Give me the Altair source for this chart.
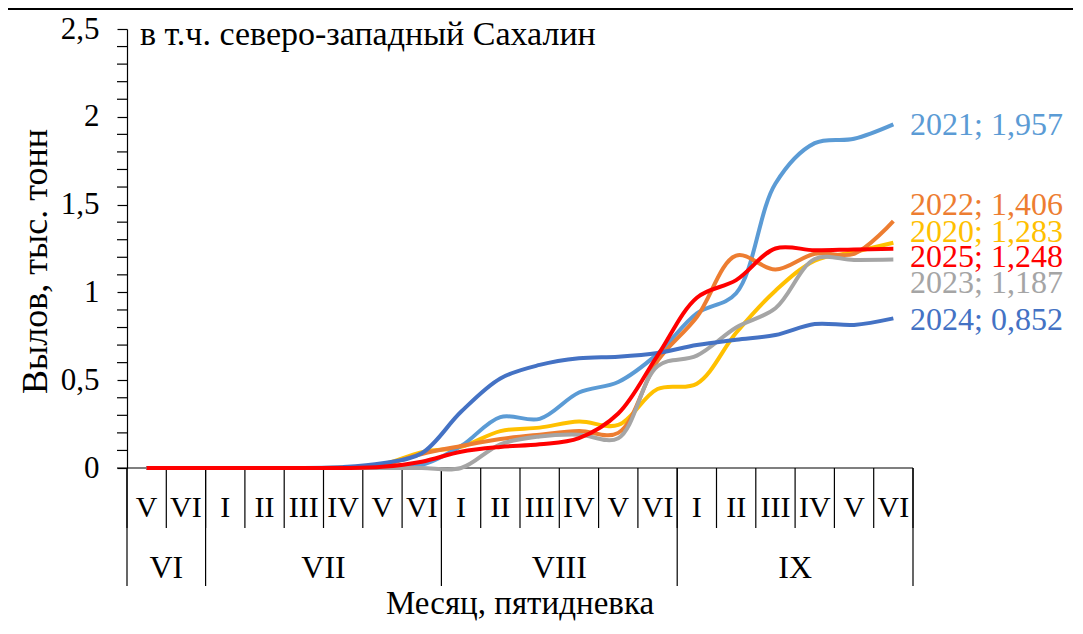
import altair as alt
import pandas as pd

# ---------------- data ----------------
pentads = ["V", "VI",
           "I", "II", "III", "IV", "V", "VI",
           "I", "II", "III", "IV", "V", "VI",
           "I", "II", "III", "IV", "V", "VI"]
months = ["VI", "VII", "VIII", "IX"]
month_first = [0, 2, 8, 14]
month_count = [2, 6, 6, 6]

years = ["2020", "2021", "2022", "2023", "2024", "2025"]
v2020 = [0, 0, 0, 0, 0, 0.002, 0.02, 0.09, 0.12, 0.21, 0.23, 0.265, 0.245, 0.45, 0.48, 0.77, 1.01, 1.18, 1.23, 1.283]
v2021 = [0, 0, 0, 0, 0, 0.003, 0.01, 0.018, 0.125, 0.29, 0.28, 0.43, 0.49, 0.65, 0.88, 0.995, 1.62, 1.85, 1.875, 1.957]
v2022 = [0, 0, 0, 0, 0, 0.003, 0.017, 0.08, 0.125, 0.165, 0.19, 0.21, 0.20, 0.61, 0.86, 1.21, 1.13, 1.22, 1.22, 1.406]
v2023 = [0, 0, 0, 0, 0, 0, 0, 0, 0, 0.135, 0.18, 0.19, 0.17, 0.58, 0.64, 0.80, 0.91, 1.19, 1.185, 1.187]
v2024 = [0, 0, 0, 0, 0, 0.005, 0.027, 0.084, 0.32, 0.51, 0.587, 0.625, 0.634, 0.655, 0.70, 0.73, 0.757, 0.82, 0.815, 0.852]
v2025 = [0, 0, 0, 0, 0, 0, 0.007, 0.036, 0.093, 0.12, 0.135, 0.17, 0.31, 0.64, 0.97, 1.07, 1.25, 1.24, 1.245, 1.248]
series = [v2020, v2021, v2022, v2023, v2024, v2025]
final_values = [1.283, 1.957, 1.406, 1.187, 0.852, 1.248]
label_y = [1.346, 1.953, 1.498, 1.054, 0.843, 1.203]
colors = ["#FFC000", "#5B9BD5", "#ED7D31", "#A5A5A5", "#4472C4", "#FF0000"]

y_major = [0, 0.5, 1, 1.5, 2, 2.5]
y_minor = [round(i * 0.1, 1) for i in range(26) if i % 5 != 0]

title_text = "в т.ч. северо-западный Сахалин"
y_title = "Вылов, тыс. тонн"
x_title = "Месяц, пятидневка"

FONT = "Liberation Serif"
W, H = 786, 439

# ---------------- tables ----------------
lines_df = pd.DataFrame([
    {"year": y, "idx": i, "value": v}
    for y, vals in zip(years, series) for i, v in enumerate(vals)
])
labels_df = pd.DataFrame({
    "year": years,
    "ly": label_y,
    "text": [f"{y}; {v:.3f}".replace(".", ",") for y, v in zip(years, final_values)],
})
pentad_df = pd.DataFrame({"idx": list(range(len(pentads))), "lab": pentads})
bounds_df = pd.DataFrame({"b": [i - 0.5 for i in range(len(pentads) + 1)]})
month_df = pd.DataFrame({
    "lab": months,
    "c": [f + (n - 1) / 2 for f, n in zip(month_first, month_count)],
})
month_bounds_df = pd.DataFrame({"b": [f - 0.5 for f in month_first] + [len(pentads) - 0.5]})
minor_df = pd.DataFrame({"t": y_minor})
one = pd.DataFrame({"a": [0]})

xscale = alt.Scale(domain=[-0.5, len(pentads) - 0.5], nice=False, zero=False)
yscale = alt.Scale(domain=[0, 2.5], nice=False)
yaxis = alt.Axis(
    values=y_major, labelExpr="replace(toString(datum.value), '.', ',')",
    title=y_title, titleFont=FONT, titleFontSize=36, titleFontWeight="normal",
    titleColor="black", titleAngle=-90, titleX=-92, titleY=232,
    titleAlign="center", titleBaseline="middle",
    labelFont=FONT, labelFontSize=31, labelColor="black", labelPadding=18,
    tickColor="black", tickSize=10, tickWidth=1.2,
    domainColor="black", domainWidth=1.2, grid=False,
)
color = alt.Color("year:N", scale=alt.Scale(domain=years, range=colors), legend=None)

lines = alt.Chart(lines_df).mark_line(strokeWidth=4, interpolate="catmull-rom").encode(
    x=alt.X("idx:Q", scale=xscale, axis=None),
    y=alt.Y("value:Q", scale=yscale, axis=yaxis),
    color=color,
)

end_labels = alt.Chart(labels_df).mark_text(
    align="left", baseline="middle", font=FONT, fontSize=32
).encode(
    x=alt.value(783),
    y=alt.Y("ly:Q", scale=yscale, axis=yaxis),
    text="text:N",
    color=color,
)

minor_ticks = alt.Chart(minor_df).mark_rule(color="black", strokeWidth=1.2).encode(
    x=alt.value(-10), x2=alt.value(0),
    y=alt.Y("t:Q", scale=yscale, axis=yaxis),
)

x_line = alt.Chart(one).mark_rule(color="black", strokeWidth=1.2).encode(
    x=alt.value(-10), x2=alt.value(W), y=alt.value(H)
)

pentad_bounds = alt.Chart(bounds_df).mark_rule(color="black", strokeWidth=1.2).encode(
    x=alt.X("b:Q", scale=xscale, axis=None), y=alt.value(H), y2=alt.value(H + 60)
)
month_bounds = alt.Chart(month_bounds_df).mark_rule(color="black", strokeWidth=1.2).encode(
    x=alt.X("b:Q", scale=xscale, axis=None), y=alt.value(H), y2=alt.value(H + 118)
)
pentad_labels = alt.Chart(pentad_df).mark_text(
    font=FONT, fontSize=30, color="black", baseline="middle"
).encode(x=alt.X("idx:Q", scale=xscale, axis=None), y=alt.value(H + 40), text="lab:N")
month_labels = alt.Chart(month_df).mark_text(
    font=FONT, fontSize=32, color="black", baseline="middle"
).encode(x=alt.X("c:Q", scale=xscale, axis=None), y=alt.value(H + 100), text="lab:N")

x_title_mark = alt.Chart(one).mark_text(
    font=FONT, fontSize=33, color="black", baseline="alphabetic", text=x_title
).encode(x=alt.value(W / 2), y=alt.value(H + 146))

title_mark = alt.Chart(one).mark_text(
    font=FONT, fontSize=34, color="black", baseline="middle", align="left", text=title_text
).encode(x=alt.value(13), y=alt.value(6))

top_border = alt.Chart(one).mark_rule(color="black", strokeWidth=2).encode(
    x=alt.value(-119), x2=alt.value(946), y=alt.value(-20)
)

chart = alt.layer(
    top_border, x_line, pentad_bounds, month_bounds, pentad_labels, month_labels,
    x_title_mark, title_mark, minor_ticks, lines, end_labels,
).properties(
    width=W, height=H,
    padding={"left": 119, "top": 21, "right": 160, "bottom": 156},
    autosize=alt.AutoSizeParams(type="none"),
).configure(background="white", view=alt.ViewConfig(stroke=None))

chart.save("out.html", embed_options={"renderer": "svg", "actions": False})
